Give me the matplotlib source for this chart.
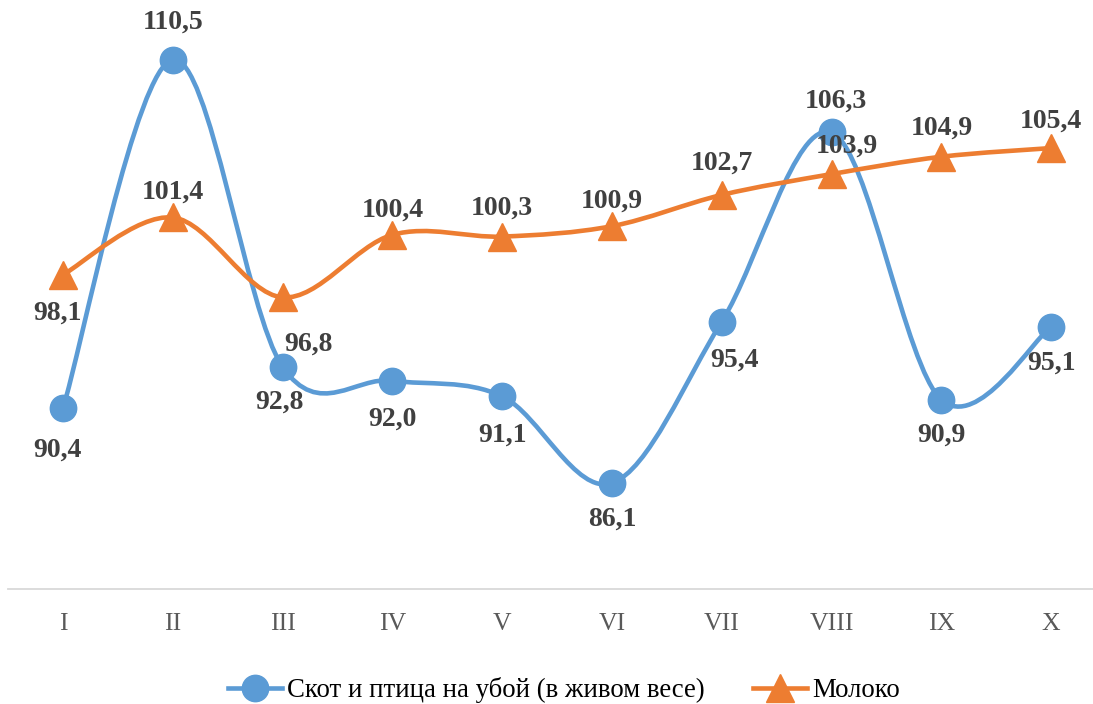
import matplotlib.pyplot as plt
import numpy as np
from matplotlib.path import Path
from matplotlib.patches import PathPatch
from matplotlib.lines import Line2D

plt.rcParams['font.family'] = ['Liberation Serif', 'DejaVu Serif']

months = ['I', 'II', 'III', 'IV', 'V', 'VI', 'VII', 'VIII', 'IX', 'X']
skot = [90.4, 110.5, 92.8, 92.0, 91.1, 86.1, 95.4, 106.3, 90.9, 95.1]
moloko = [98.1, 101.4, 96.8, 100.4, 100.3, 100.9, 102.7, 103.9, 104.9, 105.4]
name_skot = 'Скот и птица на убой (в живом весе)'
name_moloko = 'Молоко'

# label offsets in pixels (dx, dy) relative to the marker
off_skot = [(-5, -42), (0, 37), (-3, -35), (0, -38), (0, -39), (0, -36),
            (13, -39), (4, 31), (0, -35), (0, -36)]
off_moloko = [(-5, -38), (0, 25), (26, -47), (0, 25), (0, 28), (0, 25),
              (0, 32), (15, 28), (0, 29), (0, 27)]

blue = '#5B9BD5'
orange = '#ED7D31'


def smooth_path(x, y):
    # Bezier curve through the points, like Excel's smoothed line
    pts = np.column_stack([x, y]).astype(float)
    n = len(pts)
    verts = [pts[0]]
    codes = [Path.MOVETO]
    for i in range(n - 1):
        p0 = pts[max(i - 1, 0)]
        p1 = pts[i]
        p2 = pts[i + 1]
        p3 = pts[min(i + 2, n - 1)]
        c1 = p1 + (p2 - p0) / 6.0
        c2 = p2 - (p3 - p1) / 6.0
        verts += [c1, c2, p2]
        codes += [Path.CURVE4] * 3
    return Path(verts, codes)


W, H = 1093, 704
fig = plt.figure(figsize=(W / 100, H / 100), dpi=100)
ax = fig.add_axes([8 / W, (H - 589) / H, (W - 8) / W, 589 / H])

x = np.arange(len(months))
for vals, col, mk, offs in [(skot, blue, 'o', off_skot),
                            (moloko, orange, '^', off_moloko)]:
    ax.add_patch(PathPatch(smooth_path(x, vals), fill=False, edgecolor=col,
                           lw=3.3, capstyle='round', zorder=2))
    ax.plot(x, vals, ls='none', marker=mk, ms=19 if mk == 'o' else 20,
            color=col, zorder=3)
    for xi, v, (dx, dy) in zip(x, vals, offs):
        ax.annotate(f'{v:.1f}'.replace('.', ','), (xi, v),
                    xytext=(dx * 0.72, dy * 0.72), textcoords='offset points',
                    ha='center', va='center', fontsize=20, fontweight='bold',
                    color='#404040', zorder=4)

ax.set_xlim(-0.5, (W - 63) / 109.8)
ax.set_ylim(80, 80 + 589 / 17.36)
ax.set_xticks(x)
ax.set_xticklabels(months, fontsize=18.5, color='#595959')
ax.tick_params(axis='x', length=0, pad=17)
ax.set_yticks([])
for s in ['top', 'right', 'left']:
    ax.spines[s].set_visible(False)
ax.spines['bottom'].set_color('#D9D9D9')
ax.spines['bottom'].set_linewidth(1.3)

handles = [Line2D([], [], color=blue, lw=3.3, marker='o', ms=19),
           Line2D([], [], color=orange, lw=3.3, marker='^', ms=20)]
fig.legend(handles, [name_skot, name_moloko], loc='center',
           bbox_to_anchor=(564 / W, 1 - 690 / H), ncol=2, frameon=False,
           fontsize=19.3, handlelength=2.0, handletextpad=0.2,
           columnspacing=1.8)

fig.savefig('out.png', dpi=100)
